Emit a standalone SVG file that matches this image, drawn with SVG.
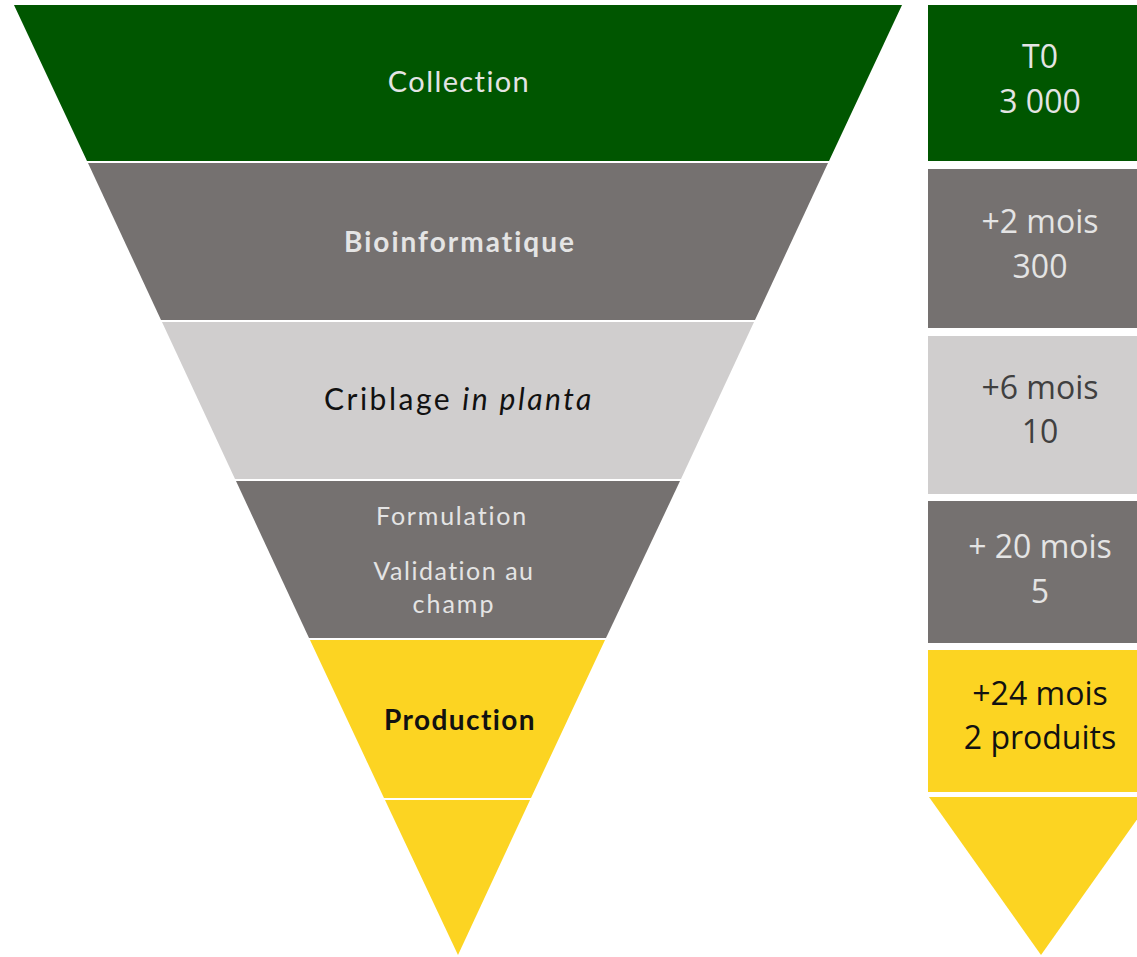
<svg xmlns="http://www.w3.org/2000/svg" width="1137" height="957" viewBox="0 0 1137 957">
<style>
.ft{font-family:Lato,"Open Sans","Liberation Sans",sans-serif;text-anchor:middle}
.rt{font-family:"Open Sans","Liberation Sans",sans-serif;font-size:32px;text-anchor:middle}
.lt{fill:#E4E4E4}
.dk{fill:#111}
.gr{fill:#757170}
.lg{fill:#D0CECE}
.gn{fill:#005600}
.yl{fill:#FCD422}
</style>
<rect width="1137" height="957" fill="#fff"/>
<g id="funnel">
<g id="collection"><polygon class="gn" points="14,5 902,5 829,161 87,161"/><text class="ft lt" x="459" y="92" font-size="29" letter-spacing="1.4">Collection</text></g>
<g id="bioinformatique"><polygon class="gr" points="88,163 828,163 755,320 161,320"/><text class="ft lt" x="460" y="252" font-size="28" font-weight="bold" letter-spacing="2">Bioinformatique</text></g>
<g id="criblage"><polygon class="lg" points="162,322 754,322 681,479 235,479"/><text class="ft dk" x="459" y="410" font-size="30" letter-spacing="2.5">Criblage <tspan font-style="italic">in planta</tspan></text></g>
<g id="formulation"><polygon class="gr" points="236,481 680,481 606,638 309,638"/><text class="ft lt" x="452" y="525" font-size="25" letter-spacing="1.8">Formulation</text><text class="ft lt" x="454" y="580" font-size="25" letter-spacing="1.5">Validation au</text><text class="ft lt" x="454" y="613" font-size="25" letter-spacing="2">champ</text></g>
<g id="production"><polygon class="yl" points="310,640 605,640 531,798 384,798"/><text class="ft dk" x="460" y="730" font-size="28" font-weight="bold" letter-spacing="1.4">Production</text></g>
<g id="tip"><polygon class="yl" points="385,800 530,800 458,955"/></g>
</g>
<g id="timeline">
<g id="t0"><rect class="gn" x="928" y="5" width="224" height="156"/><text class="rt lt" x="1040" y="68">T0</text><text class="rt lt" x="1040" y="113">3 000</text></g>
<g id="t2"><rect class="gr" x="928" y="169" width="224" height="159"/><text class="rt lt" x="1040" y="233">+2 mois</text><text class="rt lt" x="1040" y="278">300</text></g>
<g id="t6"><rect class="lg" x="928" y="336" width="224" height="158"/><text class="rt" fill="#404040" x="1040" y="399">+6 mois</text><text class="rt" fill="#404040" x="1040" y="443">10</text></g>
<g id="t20"><rect class="gr" x="928" y="501" width="224" height="142"/><text class="rt lt" x="1040" y="558">+ 20 mois</text><text class="rt lt" x="1040" y="603">5</text></g>
<g id="t24"><rect class="yl" x="928" y="650" width="224" height="142"/><text class="rt dk" x="1040" y="705">+24 mois</text><text class="rt dk" x="1040" y="749">2 produits</text></g>
<g id="ttip"><polygon class="yl" points="929,797 1153,797 1041,955"/></g>
</g>
</svg>
